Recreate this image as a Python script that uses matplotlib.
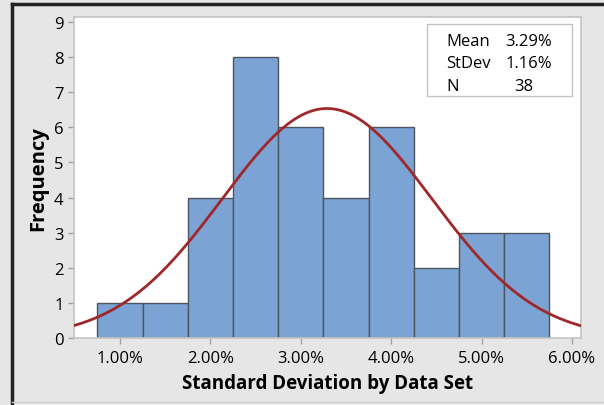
import numpy as np
import matplotlib
matplotlib.use('Agg')
import matplotlib.pyplot as plt
from matplotlib.lines import Line2D

plt.rcParams['font.family'] = ['Open Sans', 'DejaVu Sans']

# histogram data (percent)
bin_centers = [1.0, 1.5, 2.0, 2.5, 3.0, 3.5, 4.0, 4.5, 5.0, 5.5]
counts = [1, 1, 4, 8, 6, 4, 6, 2, 3, 3]
bin_width = 0.5
mean_pct = 3.29
stdev_pct = 1.16
n_obs = 38
x_ticks = [1.0, 2.0, 3.0, 4.0, 5.0, 6.0]
x_tick_labels = ['1.00%', '2.00%', '3.00%', '4.00%', '5.00%', '6.00%']
y_ticks = list(range(0, 10))

fig = plt.figure(figsize=(6.04, 4.06), dpi=100)
fig.patch.set_facecolor('#e6e6e6')
ax = fig.add_axes([74 / 604, 67 / 406, 507 / 604, 321 / 406])
ax.set_facecolor('white')

ax.bar(bin_centers, counts, width=bin_width, color='#7ba3d3',
       edgecolor='#4d5560', linewidth=1.0, zorder=2)

# fitted normal curve
xs = np.linspace(0.49, 6.10, 300)
ys = n_obs * bin_width / (stdev_pct * np.sqrt(2 * np.pi)) * \
    np.exp(-0.5 * ((xs - mean_pct) / stdev_pct) ** 2)
ax.plot(xs, ys, color='#a0282b', linewidth=2.0, zorder=3)

ax.set_xlim(0.49, 6.10)
ax.set_ylim(0, 9.14)
ax.set_xticks(x_ticks)
ax.set_xticklabels(x_tick_labels)
ax.set_yticks(y_ticks)
ax.tick_params(axis='both', labelsize=12, color='#a0a0a0', length=4,
               width=1, labelcolor='black')
ax.tick_params(axis='x', pad=5)
for s in ax.spines.values():
    s.set_color('#c4c4c4')
    s.set_linewidth(1.2)

ax.set_xlabel('Standard Deviation by Data Set', fontsize=13.5,
              fontweight='bold', labelpad=5)
ax.set_ylabel('Frequency', fontsize=14.5, fontweight='bold', labelpad=4)

# stats box
box = plt.Rectangle((427 / 604, 1 - 97 / 406), 145 / 604, 72 / 406,
                    transform=fig.transFigure, facecolor='white',
                    edgecolor='#c4c4c4', linewidth=1.0, zorder=5)
fig.patches.append(box)
labels = ['Mean', 'StDev', 'N']
values = ['%.2f%%' % mean_pct, '%.2f%%' % stdev_pct, str(n_obs)]
rows_y = [42, 64, 87]
for lab, val, yy in zip(labels, values, rows_y):
    fig.text(446 / 604, 1 - yy / 406, lab, fontsize=12, va='center',
             ha='left', zorder=6)
    if lab == 'N':
        fig.text(524 / 604, 1 - yy / 406, val, fontsize=12, va='center',
                 ha='center', zorder=6)
    else:
        fig.text(552 / 604, 1 - yy / 406, val, fontsize=12, va='center',
                 ha='right', zorder=6)

# outer frame (cropped screenshot edges)
fig.lines.append(Line2D([12 / 604, 12 / 604], [0, 1 - 5 / 406],
                        transform=fig.transFigure, color='#222222', linewidth=2.5))
fig.lines.append(Line2D([12 / 604, 1], [1 - 5 / 406, 1 - 5 / 406],
                        transform=fig.transFigure, color='#222222', linewidth=2.5))
fig.lines.append(Line2D([12 / 604, 1], [1 - 403 / 406, 1 - 403 / 406],
                        transform=fig.transFigure, color='#cfcfcf', linewidth=1))

fig.savefig('out.png', dpi=100, facecolor=fig.get_facecolor())
